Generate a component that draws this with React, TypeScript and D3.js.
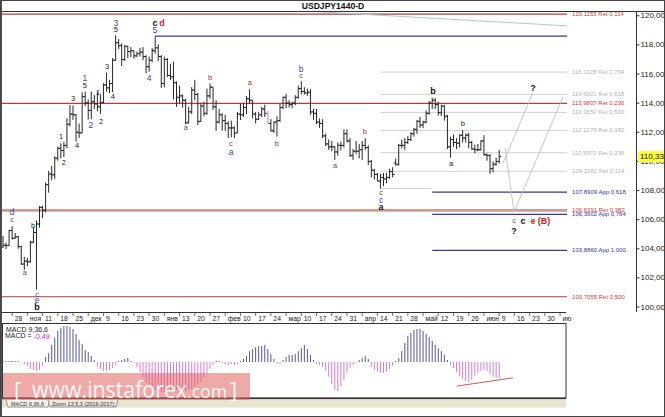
import React from "react";
import * as d3 from "d3";

// Daily bars, 25 Oct 2016 .. 9 Jun 2017 : [open, high, low, close]
const ohlc: [number, number, number, number][] = [
  [104.13, 104.87, 104.05, 104.24], [104.25, 104.42, 103.98, 104.22], [104.22, 105.3, 104.18, 105.25], [105.25, 105.53, 104.63, 104.72],
  [104.72, 105.09, 104.68, 104.82], [104.82, 104.88, 104.0, 104.15], [104.15, 104.2, 102.9, 102.95], [102.95, 103.45, 102.55, 103.15],
  [103.15, 103.38, 102.8, 103.1], [103.1, 104.55, 103.05, 104.45], [104.45, 105.47, 104.4, 105.12], [105.12, 105.95, 101.19, 105.7],
  [105.7, 106.94, 105.45, 106.85], [106.85, 106.95, 106.1, 106.63], [106.63, 108.55, 106.5, 108.4], [108.4, 109.35, 107.85, 109.13],
  [109.13, 109.7, 108.7, 109.08], [109.08, 110.35, 108.8, 110.22], [110.22, 111.0, 110.05, 110.9], [110.9, 111.25, 110.2, 110.75],
  [110.75, 111.35, 110.3, 111.1], [111.1, 112.95, 110.9, 112.55], [112.55, 113.88, 112.4, 113.25], [113.25, 113.85, 112.85, 113.2],
  [113.2, 113.25, 111.35, 112.0], [112.0, 112.6, 111.6, 111.95], [111.95, 114.75, 111.95, 114.45], [114.45, 114.8, 113.8, 114.02],
  [114.02, 114.25, 112.88, 113.5], [113.5, 114.8, 112.9, 114.1], [114.1, 114.55, 113.6, 113.95], [113.95, 114.78, 113.45, 113.75],
  [113.75, 114.6, 113.25, 114.05], [114.05, 115.37, 113.98, 115.25], [115.25, 116.1, 114.8, 115.05], [115.05, 115.6, 114.7, 115.35],
  [115.35, 117.1, 114.75, 116.95], [116.95, 118.66, 116.9, 118.15], [118.15, 118.4, 117.7, 117.95], [117.95, 118.1, 116.55, 117.0],
  [117.0, 118.0, 116.9, 117.9], [117.9, 117.95, 117.1, 117.55], [117.55, 117.85, 117.15, 117.6], [117.6, 117.6, 117.05, 117.25],
  [117.25, 117.55, 117.15, 117.4], [117.4, 117.8, 117.2, 117.5], [117.5, 117.85, 116.95, 117.2], [117.2, 117.3, 116.05, 116.5],
  [116.5, 117.2, 116.15, 116.95], [116.95, 117.8, 116.8, 117.6], [117.6, 118.6, 117.4, 117.8], [117.8, 118.05, 116.9, 117.2],
  [117.2, 117.3, 115.05, 115.35], [115.35, 117.2, 115.1, 117.0], [117.0, 117.1, 115.8, 115.9], [115.9, 116.7, 115.6, 115.8],
  [115.8, 116.85, 114.25, 115.4], [115.4, 115.5, 113.75, 114.4], [114.4, 115.2, 114.0, 114.5], [114.5, 114.6, 113.7, 114.2],
  [114.2, 114.3, 112.55, 112.65], [112.65, 113.75, 112.6, 113.4], [113.4, 115.1, 113.25, 114.9], [114.9, 115.6, 114.2, 114.6],
  [114.6, 114.7, 112.5, 112.75], [112.75, 114.0, 112.7, 113.8], [113.8, 114.1, 113.1, 113.3], [113.3, 115.0, 113.2, 114.5],
  [114.5, 115.35, 114.3, 115.1], [115.1, 115.1, 113.55, 113.75], [113.75, 114.2, 112.1, 112.7], [112.7, 113.6, 112.6, 113.2],
  [113.2, 113.3, 112.1, 112.8], [112.8, 113.2, 112.1, 112.6], [112.6, 112.75, 111.6, 112.3], [112.3, 112.8, 111.65, 112.3],
  [112.3, 112.4, 111.6, 111.95], [111.95, 113.4, 111.95, 113.25], [113.25, 113.95, 112.85, 113.2], [113.2, 114.0, 113.05, 113.7],
  [113.7, 114.5, 113.25, 114.3], [114.3, 114.95, 113.95, 114.2], [114.2, 114.2, 112.95, 113.25], [113.25, 113.4, 112.6, 112.9],
  [112.9, 113.4, 112.85, 113.2], [113.2, 113.75, 113.05, 113.6], [113.6, 113.9, 113.05, 113.3], [113.3, 113.45, 112.6, 112.6],
  [112.6, 112.9, 112.05, 112.1], [112.1, 112.75, 111.95, 112.7], [112.7, 113.1, 111.7, 112.8], [112.8, 113.95, 112.7, 113.7],
  [113.7, 114.45, 113.6, 114.4], [114.4, 114.65, 113.65, 114.0], [114.0, 114.2, 113.7, 113.9], [113.9, 114.1, 113.65, 114.0],
  [114.0, 114.55, 113.85, 114.4], [114.4, 115.2, 114.3, 115.0], [115.0, 115.5, 114.6, 114.8], [114.8, 115.1, 114.6, 114.7],
  [114.7, 115.0, 114.5, 114.75], [114.75, 114.95, 113.2, 113.4], [113.4, 113.6, 112.85, 113.3], [113.3, 113.6, 112.55, 112.7],
  [112.7, 112.95, 112.3, 112.6], [112.6, 112.9, 111.6, 111.75], [111.75, 111.9, 111.05, 111.2], [111.2, 111.5, 110.8, 111.0],
  [111.0, 111.4, 110.7, 111.0], [111.0, 111.05, 110.1, 110.65], [110.65, 111.3, 110.4, 111.1], [111.1, 111.35, 110.75, 111.1],
  [111.1, 112.2, 110.95, 111.9], [111.9, 112.2, 111.3, 111.4], [111.4, 111.6, 110.3, 110.4], [110.4, 110.85, 110.1, 110.7],
  [110.7, 111.4, 110.5, 110.7], [110.7, 111.2, 110.2, 110.8], [110.8, 111.4, 110.1, 111.1], [111.1, 111.6, 110.8, 110.95],
  [110.95, 111.1, 109.75, 110.0], [110.0, 110.1, 108.9, 109.4], [109.4, 109.45, 108.75, 109.1], [109.1, 109.2, 108.65, 108.65],
  [108.65, 109.15, 108.13, 108.9], [108.9, 109.2, 108.3, 108.8], [108.8, 109.2, 108.5, 108.9], [108.9, 109.5, 108.8, 109.3],
  [109.3, 109.6, 108.9, 109.1], [109.9, 110.2, 109.7, 109.8], [109.8, 111.2, 109.7, 111.1], [111.1, 111.5, 110.9, 111.1],
  [111.1, 111.6, 110.8, 111.3], [111.3, 111.75, 111.2, 111.5], [111.5, 112.0, 111.4, 111.9], [111.9, 112.3, 111.7, 112.2],
  [112.2, 112.85, 111.9, 112.75], [112.75, 113.05, 112.3, 112.5], [112.5, 112.8, 112.3, 112.7], [112.7, 113.5, 112.6, 113.3],
  [113.3, 114.15, 113.2, 114.0], [114.0, 114.37, 113.6, 114.2], [114.2, 114.35, 113.6, 113.9], [113.9, 114.1, 113.15, 113.35],
  [113.35, 113.9, 113.1, 113.8], [113.8, 113.85, 112.8, 113.1], [113.1, 113.2, 110.85, 111.0], [111.0, 111.7, 110.25, 111.5],
  [111.5, 111.85, 111.0, 111.3], [111.3, 111.6, 110.85, 111.25], [111.25, 111.85, 110.95, 111.8], [111.8, 112.15, 111.3, 111.6],
  [111.6, 111.9, 111.3, 111.8], [111.8, 111.95, 110.9, 111.3], [111.3, 111.4, 110.8, 110.85], [110.85, 111.15, 110.55, 110.8],
  [110.8, 111.2, 110.7, 110.8], [110.8, 111.45, 110.75, 111.4], [111.4, 111.8, 110.4, 110.45], [110.45, 110.55, 110.05, 110.4],
  [110.4, 110.5, 109.15, 109.5], [109.5, 110.0, 109.25, 109.8], [109.8, 110.25, 109.7, 110.0], [110.0, 110.8, 109.85, 110.33],
];

// MACD(9,36,6) histogram, one value per bar
const macdHist: number[] = [
  0.03, 0.03, 0.03, 0.03, 0.03, 0.03, -0.01, -0.06, -0.12, -0.21, -0.24, -0.27, -0.24, -0.12,
  0.15, 0.27, 0.52, 0.73, 0.94, 1.03, 1.09, 1.09, 1.06, 1.0, 0.85, 0.67, 0.55, 0.36, 0.3, 0.18, 0.06,
  -0.12, -0.21, -0.27, -0.27, -0.24, -0.18, -0.09,
  0.03, 0.06, 0.09, 0.12, 0.03,
  -0.03, -0.15, -0.3, -0.45, -0.61, -0.73, -0.82, -0.85, -0.88, -0.91, -0.91, -0.91, -0.88, -0.88, -0.85, -0.85, -0.85, -0.88, -0.85, -0.82, -0.73, -0.67, -0.61, -0.48, -0.36, -0.21, -0.09,
  0.03, 0.03, -0.03, -0.06, -0.09, -0.06, -0.09, -0.06, 0.03,
  0.09, 0.18, 0.33, 0.39, 0.45, 0.48, 0.48, 0.52, 0.39, 0.24, 0.09,
  -0.06, -0.06,
  0.06, 0.15, 0.21, 0.21, 0.24, 0.33, 0.42, 0.52, 0.39, 0.21, 0.06,
  -0.06, -0.09, -0.15, -0.27, -0.45, -0.67, -0.85, -0.88, -0.73, -0.55, -0.33, -0.18, -0.09,
  -0.03, 0.06, 0.12, 0.18, 0.09,
  -0.15, -0.24, -0.3, -0.33, -0.33, -0.3, -0.21, -0.12,
  0.03, 0.12, 0.33, 0.58, 0.79, 0.88, 0.97, 1.0, 1.0, 0.94, 0.85, 0.76, 0.64, 0.52, 0.42, 0.33, 0.21, 0.06,
  -0.09, -0.18, -0.3, -0.42, -0.52, -0.58, -0.61, -0.55, -0.42, -0.33, -0.27, -0.24, -0.27, -0.36, -0.45, -0.48, -0.49,
];

const priceTicks = [100, 102, 104, 106, 108, 110, 112, 114, 116, 118, 120];
const dateTickLabels = [
  "28", "ноя", "11", "18", "25", "дек", "9", "16", "23", "30", "янв", "13", "20", "27", "фев", "10", "17", "24",
  "мар", "10", "17", "24", "31", "апр", "14", "21", "28", "май", "12", "19", "26", "июн", "9", "16", "23", "30", "ию",
];
const firstTickBar = 3;
const barsPerWeek = 5;

const lastPrice = 110.333;
const macdNow = "-0,49";
const highlightBar = 87;

type Level = { p: number; t: string; k: string; from: number; to?: number };
const levels: Level[] = [
  { p: 120.1155, t: "120,1155 Ret 0,114", k: "ret", from: -0.5 },
  { p: 118.6, t: "", k: "app", from: 50 },
  { p: 116.1328, t: "116,1328 Ret 0,764", k: "grid", from: 124 },
  { p: 114.6021, t: "114,6021 Ret 0,618", k: "grid", from: 124 },
  { p: 113.9807, t: "113,9807 Ret 0,236", k: "ret", from: -0.5 },
  { p: 113.365, t: "113,3650 Ret 0,500", k: "grid", from: 124 },
  { p: 112.1279, t: "112,1279 Ret 0,382", k: "grid", from: 124 },
  { p: 110.5972, t: "110,5972 Ret 0,236", k: "grid", from: 124 },
  { p: 109.3182, t: "109,3182 Ret 0,114", k: "grid", from: 124 },
  { p: 108.13, t: "", k: "grid", from: 124, to: 141 },
  { p: 107.8909, t: "107,8909 App 0,618", k: "app", from: 141 },
  { p: 106.6391, t: "106,6391 Ret 0,382", k: "main", from: -0.5 },
  { p: 106.3602, t: "106,3602 App 0,764", k: "app", from: 141 },
  { p: 103.886, t: "103,8860 App 1,000", k: "app", from: 141 },
  { p: 100.7055, t: "100,7055 Ret 0,500", k: "ret", from: -0.5 },
];
const levelEnd = 185.3;

const trendLine: [number, number][] = [[104.1, 120.27], [185.3, 119.31]];
const forecastDown: [number, number][] = [[164.9, 110.93], [167.9, 106.53], [184.0, 114.43]];
const forecastUp: [number, number][] = [[164.3, 109.9], [174.1, 114.72]];
const macdTrend: [number, number][] = [[149.1, -0.73], [167.5, -0.48]];

type Wave = [string, number, number, string];
const waveLabels: Wave[] = [
  ["3", 37.1, 119.52, "bl"], ["5", 37.1, 119.04, "k"],
  ["c", 49.9, 119.52, "kb"], ["d", 52.2, 119.52, "r"], ["5", 49.9, 119.04, "bl"],
  ["4", 48.0, 115.74, "bl"], ["1", 26.9, 115.74, "bl"], ["5", 26.9, 115.19, "k"],
  ["3", 34.2, 116.49, "k"], ["4", 36.1, 114.43, "k"], ["3", 23.0, 114.3, "k"], ["1", 31.2, 114.71, "k"],
  ["2", 28.9, 112.51, "bl"], ["2", 32.2, 112.71, "k"], ["1", 19.1, 111.68, "k"], ["4", 24.3, 111.07, "k"],
  ["2", 20.0, 109.9, "k"],
  ["a", 60.1, 112.3, "br"], ["b", 68.0, 115.74, "br"], ["a", 81.1, 115.4, "br"],
  ["c", 74.9, 111.2, "br"], ["a", 74.9, 110.65, "bl"], ["b", 90.0, 111.2, "br"],
  ["b", 97.9, 116.36, "bl"], ["c", 97.9, 115.88, "br"], ["a", 109.1, 109.69, "br"], ["b", 118.9, 112.03, "br"],
  ["c", 124.2, 107.84, "br"], ["c", 124.2, 107.35, "bl"], ["a", 124.2, 106.87, "kb"],
  ["b", 141.3, 114.85, "kb"], ["a", 147.2, 109.83, "k"], ["b", 151.1, 112.58, "k"],
  ["?", 174.1, 115.05, "kb"],
  ["c", 167.9, 105.91, "g"], ["c", 170.8, 105.91, "kb"], ["e", 174.1, 105.91, "r"], ["(B)", 177.7, 105.91, "r"],
  ["?", 167.9, 105.22, "kb"],
  ["d", 3.0, 106.53, "bl"], ["c", 3.0, 105.98, "br"], ["b", 9.9, 105.57, "k"], ["a", 7.2, 102.34, "br"],
  ["c", 11.2, 100.89, "br"], ["e", 11.2, 100.48, "bl"], ["b", 11.2, 100.0, "kb"],
];

const FONT = "'Liberation Sans', Arial, sans-serif";

const levelStyle: Record<string, { stroke: string; w: number; label: string }> = {
  ret: { stroke: "#b83a3a", w: 1.2, label: "#cc3b3b" },
  main: { stroke: "#d09a94", w: 2.6, label: "#cc3b3b" },
  grid: { stroke: "#d0d0d0", w: 1, label: "#b4b4b4" },
  app: { stroke: "#3a3a96", w: 1.2, label: "#3535a5" },
};
const waveStyle: Record<string, { fill: string; size: number; weight: string }> = {
  k: { fill: "#222", size: 7.5, weight: "normal" },
  kb: { fill: "#111", size: 9, weight: "bold" },
  br: { fill: "#8a3a3a", size: 7.5, weight: "normal" },
  bl: { fill: "#3f3fb0", size: 8.5, weight: "normal" },
  r: { fill: "#c82828", size: 9, weight: "bold" },
  g: { fill: "#555", size: 7.5, weight: "normal" },
};

export default function App() {
  const n = ohlc.length;
  const x = d3.scaleLinear().domain([0, n - 1]).range([3, 3 + (n - 1) * 3.044]);
  const y = d3.scaleLinear().domain([100, 120]).range([307, 15.8]);
  const my = d3.scaleLinear().domain([-1, 1]).range([395, 329]);
  const pl = d3.line<[number, number]>().x((d) => x(d[0])).y((d) => y(d[1]));
  const ml = d3.line<[number, number]>().x((d) => x(d[0])).y((d) => my(d[1]));
  const xEnd = x(levelEnd);

  return (
    <svg width={665} height={417} style={{ position: "fixed", left: 0, top: 0, background: "#fff" }} fontFamily={FONT}>
      <defs>
        <clipPath id="main"><rect x={2} y={12} width={634} height={300} /></clipPath>
        <clipPath id="macd"><rect x={2} y={323.5} width={564} height={74} /></clipPath>
      </defs>
      <rect x={0} y={0} width={665} height={417} fill="#fff" />
      {/* title */}
      <text x={333} y={9} textAnchor="middle" fontSize={8.6} fontWeight="bold" fill="#111">USDJPY1440-D</text>

      <g clipPath="url(#main)">
        {levels.map((l, i) => {
          const s = levelStyle[l.k];
          return (
            <line key={"l" + i} x1={x(l.from)} x2={l.to !== undefined ? x(l.to) : xEnd} y1={y(l.p)} y2={y(l.p)}
              stroke={s.stroke} strokeWidth={s.w} />
          );
        })}
        <path d={pl(trendLine) || ""} stroke="#a9cccc" strokeWidth={1} fill="none" />
        {ohlc.map((b, i) => {
          const cx = x(i);
          const col = i === highlightBar ? "#c77ad6" : "#262626";
          return (
            <g key={"b" + i} stroke={col} strokeWidth={1}>
              <line x1={cx} x2={cx} y1={y(b[1])} y2={y(b[2])} />
              <line x1={cx - 2} x2={cx} y1={y(b[0])} y2={y(b[0])} />
              <line x1={cx} x2={cx + 2} y1={y(b[3])} y2={y(b[3])} />
            </g>
          );
        })}
        <path d={pl(forecastDown) || ""} stroke="#bdbdbd" strokeWidth={0.9} fill="none" />
        <path d={pl(forecastUp) || ""} stroke="#bdbdbd" strokeWidth={0.9} fill="none" />
        {waveLabels.map((w, i) => {
          const s = waveStyle[w[3]];
          return (
            <text key={"w" + i} x={x(w[1])} y={y(w[2])} textAnchor="middle" dominantBaseline="central"
              fontSize={s.size} fontWeight={s.weight} fill={s.fill}>{w[0]}</text>
          );
        })}
        {levels.filter((l) => l.t).map((l, i) => (
          <text key={"lt" + i} x={xEnd + 5} y={y(l.p)} dominantBaseline="central" fontSize={6}
            fill={levelStyle[l.k].label}>{l.t}</text>
        ))}
      </g>

      {/* price axis */}
      <line x1={636.5} x2={636.5} y1={11.5} y2={312} stroke="#333" />
      {priceTicks.map((p) => (
        <g key={"p" + p}>
          <line x1={636.5} x2={639.5} y1={y(p)} y2={y(p)} stroke="#333" />
          <text x={640.5} y={y(p)} dominantBaseline="central" fontSize={8} fill="#222">{p.toFixed(3).replace(".", ",")}</text>
        </g>
      ))}
      <rect x={638} y={y(lastPrice) - 5.5} width={27} height={11} fill="#ffff3a" />
      <text x={640} y={y(lastPrice)} dominantBaseline="central" fontSize={8} fill="#111">{lastPrice.toFixed(3).replace(".", ",")}</text>

      {/* date axis */}
      <line x1={2} x2={566} y1={312.5} y2={312.5} stroke="#333" />
      {dateTickLabels.map((t, k) => {
        const tx = x(firstTickBar + k * barsPerWeek);
        return (
          <g key={"d" + k}>
            <line x1={tx} x2={tx} y1={313} y2={316} stroke="#444" strokeWidth={0.8} />
            <text x={tx + 2.5} y={318.5} dominantBaseline="central" fontSize={6.8} fill="#222">{t}</text>
          </g>
        );
      })}

      {/* MACD panel */}
      <rect x={2.5} y={323.5} width={563.5} height={74.5} fill="none" stroke="#333" />
      <g clipPath="url(#macd)">
        {macdHist.map((v, i) => (
          <line key={"m" + i} x1={x(i)} x2={x(i)} y1={my(0)} y2={my(v)} stroke={v >= 0 ? "#56568e" : "#d57ad8"} strokeWidth={1} />
        ))}
        <path d={ml(macdTrend) || ""} stroke="#c85a50" strokeWidth={1} fill="none" />
      </g>
      <text x={6} y={329} dominantBaseline="central" fontSize={7} fill="#222">MACD 9,36,6</text>
      <text x={5} y={335.5} dominantBaseline="central" fontSize={7} fill="#222">
        MACD = <tspan fill="#d020d0">{macdNow}</tspan>
      </text>

      {/* bottom tabs */}
      <line x1={2} x2={566} y1={398.5} y2={398.5} stroke="#333" strokeWidth={1.5} />
      <rect x={2} y={399.5} width={564} height={8} fill="#e7e4cf" />
      <path d="M6,399.5 L8,407 L48,407 L50,399.5" fill="#f4f2ea" stroke="#777" strokeWidth={0.7} />
      <path d="M48,399.5 L50,407 L116,407 L118,399.5" fill="#ece9dc" stroke="#777" strokeWidth={0.7} />
      <text x={11} y={403.5} dominantBaseline="central" fontSize={5.5} fill="#333">MACD 9,36,6</text>
      <text x={52} y={403.5} dominantBaseline="central" fontSize={5.5} fill="#333">Zoom 13,5,3 (2016-2017)</text>

      {/* watermark */}
      <rect x={3} y={373} width={247} height={27} fill="#e06262" opacity={0.55} />
      <g fill="#fff" opacity={0.9} fontFamily="'Open Sans', 'DejaVu Sans', sans-serif">
        <text x={14} y={398} fontSize={22}>[</text>
        <text x={32} y={398} fontSize={24} textLength={155} lengthAdjust="spacingAndGlyphs">www.instaforex</text>
        <text x={187} y={398} fontSize={19} textLength={40} lengthAdjust="spacingAndGlyphs">.com</text>
        <text x={230} y={398} fontSize={22}>]</text>
      </g>

      {/* frame */}
      <line x1={2} x2={665} y1={11.5} y2={11.5} stroke="#333" />
      <rect x={0.5} y={0.5} width={664} height={416} fill="none" stroke="#444" />
      <line x1={1.5} x2={1.5} y1={0} y2={417} stroke="#555" />
    </svg>
  );
}
